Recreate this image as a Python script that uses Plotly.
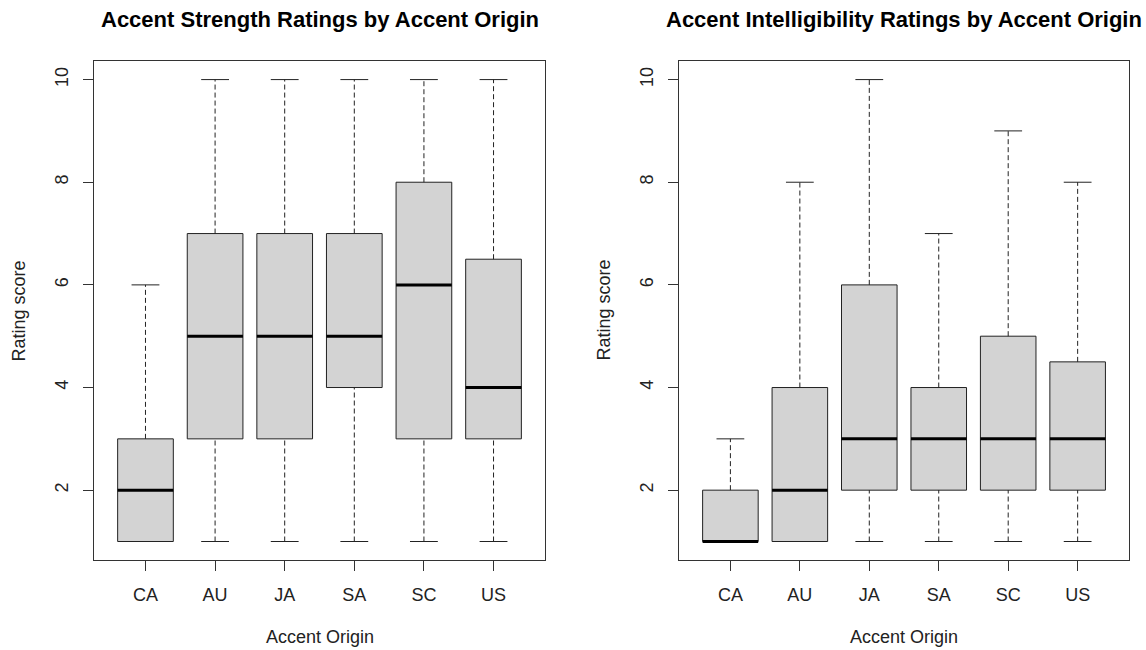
import plotly.graph_objects as go

# Accent origins (x categories)
origins = ["CA", "AU", "JA", "SA", "SC", "US"]

# Accent strength ratings: five-number summaries per origin
strength_low = [1, 1, 1, 1, 1, 1]
strength_q1 = [1, 3, 3, 4, 3, 3]
strength_med = [2, 5, 5, 5, 6, 4]
strength_q3 = [3, 7, 7, 7, 8, 6.5]
strength_high = [6, 10, 10, 10, 10, 10]

# Accent intelligibility ratings: five-number summaries per origin
intel_low = [1, 1, 1, 1, 1, 1]
intel_q1 = [1, 1, 2, 2, 2, 2]
intel_med = [1, 2, 3, 3, 3, 3]
intel_q3 = [2, 4, 6, 4, 5, 4.5]
intel_high = [3, 8, 10, 7, 9, 8]

y_ticks = [2, 4, 6, 8, 10]

BOX_HALF = 0.4
CAP_HALF = 0.2
FONT = "Liberation Sans, Arial, sans-serif"

fig = go.Figure()


def add_boxplot(xa, ya, low, q1, med, q3, high):
    pos = list(range(1, len(origins) + 1))
    # whiskers (dashed)
    wx, wy = [], []
    for p, lo, a, b, hi in zip(pos, low, q1, q3, high):
        wx += [p, p, None, p, p, None]
        wy += [b, hi, None, lo, a, None]
    fig.add_trace(go.Scatter(x=wx, y=wy, mode="lines", xaxis=xa, yaxis=ya,
                             line=dict(color="#222", width=1, dash="5px,3px"),
                             hoverinfo="skip", showlegend=False))
    # whisker caps
    cx, cy = [], []
    for p, lo, hi in zip(pos, low, high):
        cx += [p - CAP_HALF, p + CAP_HALF, None, p - CAP_HALF, p + CAP_HALF, None]
        cy += [hi, hi, None, lo, lo, None]
    fig.add_trace(go.Scatter(x=cx, y=cy, mode="lines", xaxis=xa, yaxis=ya,
                             line=dict(color="#222", width=1),
                             hoverinfo="skip", showlegend=False))
    # boxes (interquartile range)
    fig.add_trace(go.Bar(x=pos, y=[b - a for a, b in zip(q1, q3)], base=q1,
                         width=2 * BOX_HALF, xaxis=xa, yaxis=ya,
                         marker=dict(color="#D3D3D3", line=dict(color="#222", width=1)),
                         hoverinfo="skip", showlegend=False))
    # medians
    mx, my = [], []
    for p, m in zip(pos, med):
        mx += [p - BOX_HALF, p + BOX_HALF, None]
        my += [m, m, None]
    fig.add_trace(go.Scatter(x=mx, y=my, mode="lines", xaxis=xa, yaxis=ya,
                             line=dict(color="black", width=3),
                             hoverinfo="skip", showlegend=False))


add_boxplot("x", "y", strength_low, strength_q1, strength_med, strength_q3, strength_high)
add_boxplot("x2", "y2", intel_low, intel_q1, intel_med, intel_q3, intel_high)

y_dom = [0.1385, 0.906]
x_doms = [[0.082, 0.4756], [0.5925, 0.9852]]

xaxis_common = dict(range=[0.26, 6.74], tickvals=list(range(1, 7)), ticktext=origins,
                    showgrid=False, zeroline=False, showline=True, mirror=True,
                    linecolor="#333", linewidth=1, ticks="outside", ticklen=10,
                    tickcolor="#333", ticklabelstandoff=8,
                    tickfont=dict(family=FONT, size=18, color="#222"))
yaxis_common = dict(range=[0.64, 10.36], tickvals=y_ticks,
                    showgrid=False, zeroline=False, showline=True, mirror=True,
                    linecolor="#333", linewidth=1, ticks="outside", ticklen=10,
                    tickcolor="#333", tickangle=-90, ticklabelstandoff=8,
                    tickfont=dict(family=FONT, size=18, color="#222"))

fig.update_layout(
    width=1146, height=650,
    margin=dict(l=0, r=0, t=0, b=0),
    paper_bgcolor="white", plot_bgcolor="white",
    barmode="overlay",
    xaxis=dict(domain=x_doms[0], anchor="y", **xaxis_common),
    yaxis=dict(domain=y_dom, anchor="x", **yaxis_common),
    xaxis2=dict(domain=x_doms[1], anchor="y2", **xaxis_common),
    yaxis2=dict(domain=y_dom, anchor="x2", **yaxis_common),
)

titles = ["Accent Strength Ratings by Accent Origin",
          "Accent Intelligibility Ratings by Accent Origin"]
for dom, t in zip(x_doms, titles):
    cx = (dom[0] + dom[1]) / 2
    fig.add_annotation(text="<b>%s</b>" % t, x=cx, y=1 - 19 / 650, xref="paper", yref="paper",
                       showarrow=False, xanchor="center", yanchor="middle",
                       font=dict(family=FONT, size=22, color="black"))
    fig.add_annotation(text="Accent Origin", x=cx, y=1 - 637 / 650, xref="paper", yref="paper",
                       showarrow=False, xanchor="center", yanchor="middle",
                       font=dict(family=FONT, size=18, color="#222"))
    fig.add_annotation(text="Rating score", x=(dom[0] * 1146 - 75) / 1146, y=(y_dom[0] + y_dom[1]) / 2,
                       xref="paper", yref="paper", textangle=-90,
                       showarrow=False, xanchor="center", yanchor="middle",
                       font=dict(family=FONT, size=18, color="#222"))

fig.write_html("out.html")
